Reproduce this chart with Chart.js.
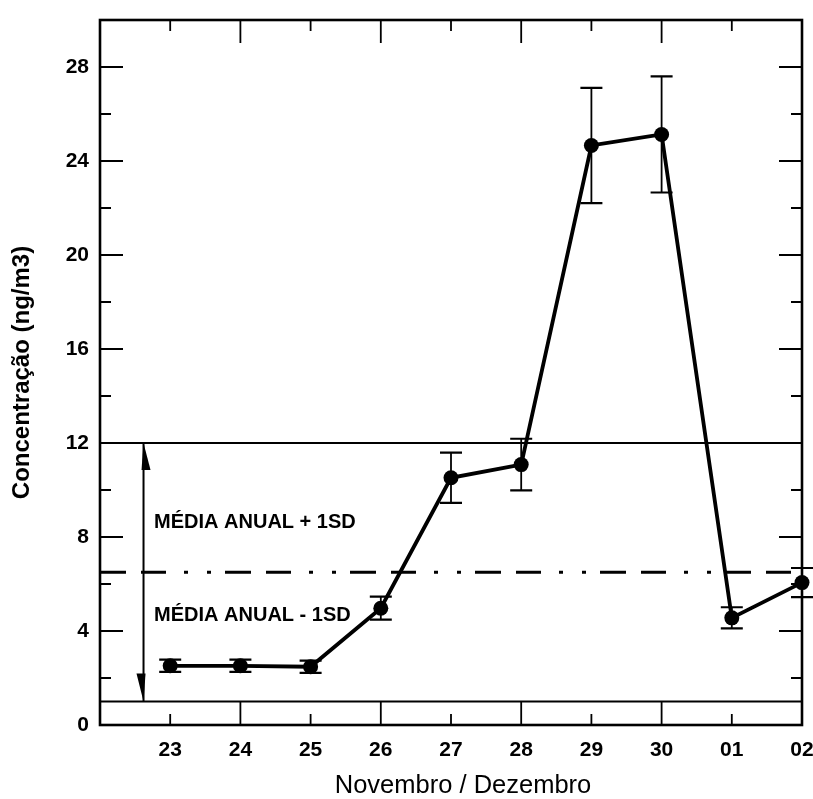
<!DOCTYPE html>
<html><head><meta charset="utf-8">
<script src="https://cdn.jsdelivr.net/npm/chart.js@4.4.1/dist/chart.umd.min.js"></script>
<style>html,body{margin:0;padding:0;background:#fff}#wrap{width:813px;height:799px}</style>
</head><body><div id="wrap"><canvas id="c" width="813" height="799"></canvas></div>
<script>
// ---- data ----
const categories = ["23","24","25","26","27","28","29","30","01","02"];
const concentration = [2.52, 2.52, 2.48, 4.97, 10.52, 11.08, 24.66, 25.13, 4.56, 6.06];
const errorSD = [0.26, 0.26, 0.26, 0.49, 1.07, 1.10, 2.45, 2.47, 0.45, 0.62];
const yTickValues = [0, 4, 8, 12, 16, 20, 24, 28];
const yMinorValues = [2, 6, 10, 14, 18, 22, 26];
const meanAnnual = 6.5;
const meanPlusSD = 12;
const meanMinusSD = 1;
const xTitle = "Novembro / Dezembro";
const yTitle = "Concentração (ng/m3)";
const labelPlus = "MÉDIA ANUAL + 1SD";
const labelMinus = "MÉDIA ANUAL - 1SD";
const xMin = -1, xMax = 9, yMin = 0, yMax = 30;

const FONT = "'Liberation Sans', Arial, Helvetica, sans-serif";
const pts = concentration.map((v, i) => ({x: i, y: v}));
const hline = v => [{x: xMin, y: v}, {x: xMax, y: v}];

const decor = {
  id: 'decor',
  afterDatasetsDraw(chart) {
    const {ctx, scales: {x, y}} = chart;
    ctx.save();
    ctx.strokeStyle = '#000';
    // error bars
    concentration.forEach((v, i) => {
      const px = x.getPixelForValue(i);
      const t = y.getPixelForValue(v + errorSD[i]);
      const b = y.getPixelForValue(v - errorSD[i]);
      ctx.lineWidth = 1.8;
      ctx.beginPath(); ctx.moveTo(px, t); ctx.lineTo(px, b); ctx.stroke();
      ctx.lineWidth = 2.2;
      ctx.beginPath();
      ctx.moveTo(px - 11, t); ctx.lineTo(px + 11, t);
      ctx.moveTo(px - 11, b); ctx.lineTo(px + 11, b);
      ctx.stroke();
    });
    // SD arrow
    const ax = x.getPixelForValue(-0.38);
    const aT = y.getPixelForValue(meanPlusSD);
    const aB = y.getPixelForValue(meanMinusSD);
    ctx.lineWidth = 2;
    ctx.beginPath(); ctx.moveTo(ax, aT); ctx.lineTo(ax, aB); ctx.stroke();
    ctx.fillStyle = '#000';
    ctx.beginPath(); ctx.moveTo(ax, aT); ctx.lineTo(ax + 7, aT + 27); ctx.lineTo(ax - 2, aT + 27); ctx.closePath(); ctx.fill();
    ctx.beginPath(); ctx.moveTo(ax, aB); ctx.lineTo(ax - 7, aB - 28); ctx.lineTo(ax + 2, aB - 28); ctx.closePath(); ctx.fill();
    // annotations
    ctx.font = 'bold 20px ' + FONT;
    ctx.textAlign = 'left'; ctx.textBaseline = 'middle';
    ctx.fillText(labelPlus, x.getPixelForValue(-0.23), y.getPixelForValue(8.6));
    ctx.fillText(labelMinus, x.getPixelForValue(-0.23), y.getPixelForValue(4.65));
    ctx.restore();
  },
  afterDraw(chart) {
    const {ctx, chartArea: a, scales: {x, y}} = chart;
    ctx.save();
    ctx.strokeStyle = '#000';
    ctx.lineWidth = 2.6;
    ctx.strokeRect(a.left, a.top, a.right - a.left, a.bottom - a.top);
    ctx.lineWidth = 1.8;
    ctx.beginPath();
    // x ticks (inward, bottom and top)
    for (let i = 0; i < categories.length - 1; i++) {
      const px = x.getPixelForValue(i);
      const len = (i % 2 === 1) ? 23 : 11;
      ctx.moveTo(px, a.bottom); ctx.lineTo(px, a.bottom - len);
      ctx.moveTo(px, a.top); ctx.lineTo(px, a.top + len);
    }
    // y ticks (inward, left and right)
    yTickValues.slice(1).forEach(v => {
      const py = y.getPixelForValue(v);
      ctx.moveTo(a.left, py); ctx.lineTo(a.left + 23, py);
      ctx.moveTo(a.right, py); ctx.lineTo(a.right - 23, py);
    });
    yMinorValues.forEach(v => {
      const py = y.getPixelForValue(v);
      ctx.moveTo(a.left, py); ctx.lineTo(a.left + 11, py);
      ctx.moveTo(a.right, py); ctx.lineTo(a.right - 11, py);
    });
    ctx.stroke();
    // x title
    ctx.fillStyle = '#000';
    ctx.font = '25.5px ' + FONT;
    ctx.textAlign = 'center'; ctx.textBaseline = 'middle';
    ctx.fillText(xTitle, (a.left + a.right) / 2 + 12, 786);
    ctx.restore();
  }
};

new Chart(document.getElementById('c'), {
  type: 'line',
  data: {
    datasets: [
      {data: pts, borderColor: '#000', borderWidth: 3.8, pointRadius: 7.5, pointHoverRadius: 7.5,
       pointBackgroundColor: '#000', pointBorderColor: '#000', pointBorderWidth: 0, tension: 0, clip: false, order: 0},
      {data: hline(meanPlusSD), borderColor: '#000', borderWidth: 2, pointRadius: 0, order: 2},
      {data: hline(meanAnnual), borderColor: '#000', borderWidth: 3, pointRadius: 0,
       borderDash: [26, 15, 25, 18, 4, 19, 4, 14], order: 2},
      {data: hline(meanMinusSD), borderColor: '#000', borderWidth: 2, pointRadius: 0, order: 2}
    ]
  },
  options: {
    responsive: false, animation: false, devicePixelRatio: 1,
    layout: {padding: {top: 20, right: 11, left: 0, bottom: 0}},
    plugins: {legend: {display: false}, tooltip: {enabled: false}},
    scales: {
      x: {
        type: 'linear', min: xMin, max: xMax,
        grid: {display: false, drawTicks: false}, border: {display: false},
        afterBuildTicks: s => { s.ticks = categories.map((c, i) => ({value: i})); },
        afterFit: s => { s.height = 74; s.paddingLeft = 0; s.paddingRight = 0; },
        ticks: {color: '#000', font: {family: FONT, size: 21, weight: 'bold'}, padding: 13,
                maxRotation: 0, autoSkip: false, callback: v => categories[v]}
      },
      y: {
        min: yMin, max: yMax,
        grid: {display: false, drawTicks: false}, border: {display: false},
        afterBuildTicks: s => { s.ticks = yTickValues.map(v => ({value: v})); },
        afterFit: s => { s.width = 100; s.paddingTop = 0; s.paddingBottom = 0; },
        ticks: {color: '#000', font: {family: FONT, size: 21, weight: 'bold'}, padding: 11},
        title: {display: true, text: yTitle, color: '#000', font: {family: FONT, size: 24, weight: 'bold'},
                padding: {top: 8, bottom: 0}}
      }
    }
  },
  plugins: [decor]
});
</script></body></html>
